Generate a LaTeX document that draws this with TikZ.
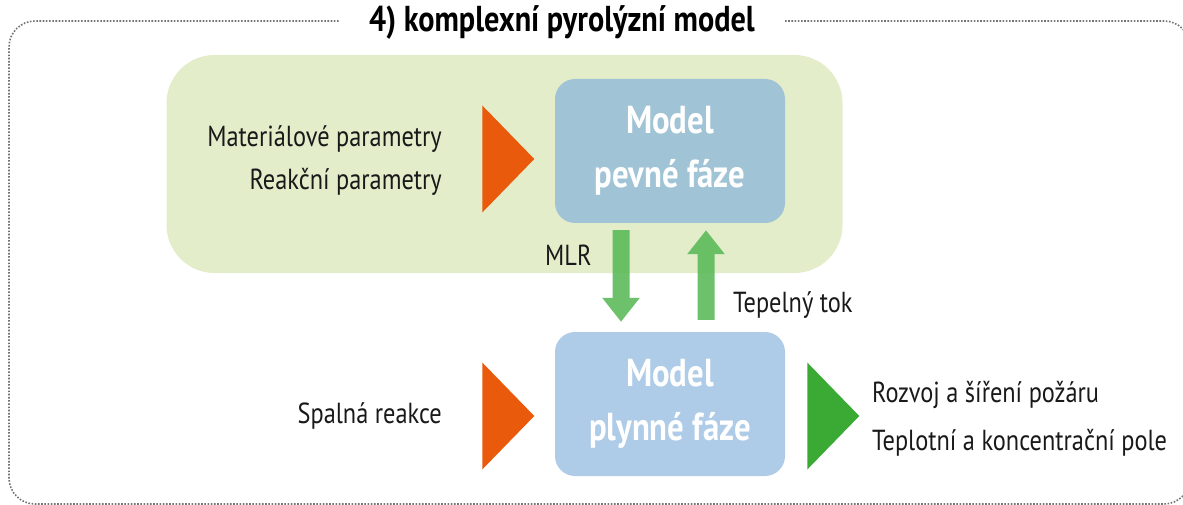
\documentclass[tikz,border=0pt]{standalone}
\usepackage{fontspec}
\setmainfont{PT Sans}[FakeStretch=0.84]
\usetikzlibrary{arrows.meta,shapes.geometric}
\definecolor{panelgreen}{HTML}{E3EDCA}
\definecolor{solidblue}{HTML}{A0C4D6}
\definecolor{gasblue}{HTML}{AECBE7}
\definecolor{inorange}{HTML}{E95A0C}
\definecolor{outgreen}{HTML}{3AAA35}
\definecolor{flowgreen}{HTML}{5CBA5A}
\tikzset{
  framebox/.style={draw=black!55, line width=1.6pt, dash pattern=on 1.6pt off 1.6pt, rounded corners=26pt},
  modelbox/.style={rounded corners=20pt, minimum width=230pt, minimum height=144pt, inner sep=0pt,
    text=white, font=\fontsize{39}{54}\selectfont\bfseries, align=center},
  label/.style={font=\fontsize{29}{32}\selectfont, text=black!90, inner sep=0pt},
  feed/.style={isosceles triangle, isosceles triangle stretches, shape border rotate=0,
    minimum width=107pt, minimum height=52pt, inner sep=0pt},
  flow/.style={draw=flowgreen, line width=17pt, -{Triangle[width=36pt,length=24pt]}}
}
\begin{document}
\begin{tikzpicture}[x=1pt,y=-1pt]
\useasboundingbox (0,0) rectangle (1183,505);
% outer dotted frame with a gap for the title
\node[font=\fontsize{36}{40}\selectfont\bfseries, inner sep=0pt] (title) at (562,23) {4) komplexní pyrolýzní model};
\draw[framebox] (785,21) -- (1190,21) -- (1190,504) -- (9,504) -- (9,21) -- (340,21);
% light green panel around the solid-phase model
\node[fill=panelgreen, rounded corners=48pt, minimum width=676pt, minimum height=218pt, inner sep=0pt] (panel) at (504.5,164) {};
% model boxes
\node[modelbox, fill=solidblue] (pevna) at (670,151) {Model\\pevné fáze};
\node[modelbox, fill=gasblue] (plynna) at (670,404) {Model\\plynné fáze};
% input and output triangles
\node[feed, fill=inorange] (vstup1) at (504,159) {};
\node[feed, fill=inorange] (vstup2) at (504,416) {};
\node[feed, fill=outgreen] (vystup) at (829,416) {};
% labels
\node[label, anchor=base east] (mat) at (442,147) {Materiálové parametry};
\node[label, anchor=base east] (reak) at (442,190) {Reakční parametry};
\node[label, anchor=east] (spal) at (442,416) {Spalná reakce};
\node[label, anchor=base west] (rozvoj) at (872,402) {Rozvoj a šíření požáru};
\node[label, anchor=base west] (pole) at (872,450) {Teplotní a koncentrační pole};
\node[label, anchor=base west] (mlr) at (545,265) {MLR};
\node[label, anchor=base west] (tok) at (733,312) {Tepelný tok};
% exchange arrows between the two models
\begin{scope}[transparency group, opacity=0.9]
\draw[flow] ([xshift=-49pt,yshift=-7pt]pevna.south) -- ([xshift=-49pt,yshift=10pt]plynna.north);
\draw[flow] ([xshift=36pt,yshift=12pt]plynna.north) -- ([xshift=36pt,yshift=-7pt]pevna.south);
\end{scope}
\end{tikzpicture}
\end{document}
